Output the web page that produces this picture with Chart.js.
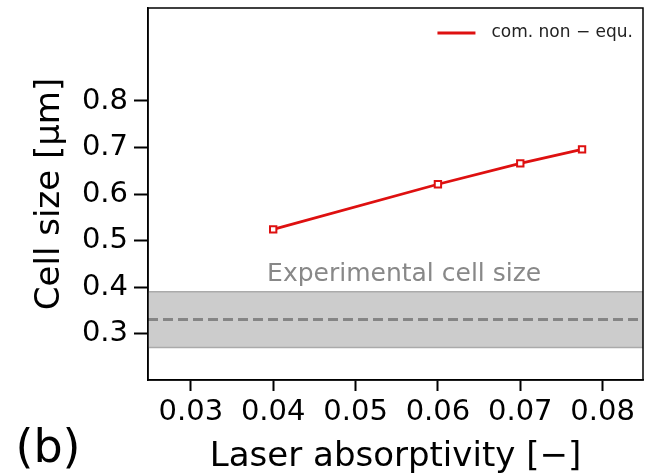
<!DOCTYPE html>
<html>
<head>
<meta charset="utf-8">
<script src="https://cdn.jsdelivr.net/npm/chart.js@4"></script>
<style>
  html, body { margin: 0; padding: 0; background: #fff; }
  #cellSizeChart { display: block; }
</style>
</head>
<body>
<canvas id="cellSizeChart" width="645" height="474"></canvas>
<script>
// Simulated cell size vs. laser absorptivity
const absorptivity = [0.04, 0.06, 0.07, 0.0775];
const cellSize = [0.524, 0.621, 0.666, 0.696];
const seriesName = "com. non − equ.";

// Experimental cell size: mean and range
const expMean = 0.33;
const expLow = 0.27;
const expHigh = 0.39;
const expLabel = "Experimental cell size";
const expLabelPos = [0.0559, 0.4125];

// Axis ranges and ticks
const xLimits = [0.0248, 0.0849];
const yLimits = [0.2, 1.0];
const xTickValues = [0.03, 0.04, 0.05, 0.06, 0.07, 0.08];
const yTickValues = [0.3, 0.4, 0.5, 0.6, 0.7, 0.8];

const FONT = "'DejaVu Sans', sans-serif";
const RED = "rgb(222, 16, 16)";

const hline = (y) => [
  { x: xLimits[0], y },
  { x: xLimits[1], y },
];

// Draws the band label, the legend, the frame and the panel tag
const extrasPlugin = {
  id: "extras",
  afterDatasetsDraw(chart) {
    const { ctx, chartArea, scales } = chart;
    ctx.save();
    ctx.font = `25px ${FONT}`;
    ctx.fillStyle = "#888888";
    ctx.textAlign = "center";
    ctx.textBaseline = "alphabetic";
    ctx.fillText(
      expLabel,
      scales.x.getPixelForValue(expLabelPos[0]),
      scales.y.getPixelForValue(expLabelPos[1])
    );

    // legend entry in the upper right corner
    const ds = chart.data.datasets[0];
    ctx.font = `17px ${FONT}`;
    const textW = ctx.measureText(ds.label).width;
    const textX = chartArea.right - 10 - textW;
    const legY = chartArea.top + 25;
    ctx.strokeStyle = ds.borderColor;
    ctx.lineWidth = ds.borderWidth;
    ctx.beginPath();
    ctx.moveTo(textX - 54, legY);
    ctx.lineTo(textX - 16, legY);
    ctx.stroke();
    ctx.fillStyle = "#222";
    ctx.textAlign = "left";
    ctx.textBaseline = "middle";
    ctx.fillText(ds.label, textX, legY);
    ctx.restore();
  },
  afterDraw(chart) {
    const { ctx, chartArea } = chart;
    ctx.save();
    ctx.strokeStyle = "#000";
    ctx.lineWidth = 1.5;
    ctx.strokeRect(
      chartArea.left,
      chartArea.top,
      chartArea.right - chartArea.left,
      chartArea.bottom - chartArea.top
    );
    ctx.font = `46px ${FONT}`;
    ctx.fillStyle = "#000";
    ctx.textAlign = "center";
    ctx.textBaseline = "alphabetic";
    ctx.fillText("(b)", 48, 462);
    ctx.restore();
  },
};

const ctx = document.getElementById("cellSizeChart").getContext("2d");
new Chart(ctx, {
  type: "scatter",
  data: {
    datasets: [
      {
        label: seriesName,
        data: absorptivity.map((x, i) => ({ x, y: cellSize[i] })),
        showLine: true,
        borderColor: RED,
        borderWidth: 2.8,
        pointStyle: "rect",
        pointRadius: 4.5,
        pointBorderWidth: 2,
        pointBackgroundColor: "#fff",
        pointBorderColor: RED,
        order: 0,
      },
      {
        label: "exp-high",
        data: hline(expHigh),
        showLine: true,
        borderColor: "#aaaaaa",
        borderWidth: 1.5,
        pointRadius: 0,
        backgroundColor: "#cccccc",
        fill: "+1",
        order: 3,
      },
      {
        label: "exp-low",
        data: hline(expLow),
        showLine: true,
        borderColor: "#aaaaaa",
        borderWidth: 1.5,
        pointRadius: 0,
        fill: false,
        order: 2,
      },
      {
        label: "exp-mean",
        data: hline(expMean),
        showLine: true,
        borderColor: "#858585",
        borderWidth: 3,
        borderDash: [10, 5],
        pointRadius: 0,
        fill: false,
        order: 1,
      },
    ],
  },
  options: {
    responsive: false,
    devicePixelRatio: 1,
    animation: false,
    layout: {
      autoPadding: false,
      padding: { top: 8, right: 2, left: 0, bottom: 0 },
    },
    plugins: {
      tooltip: { enabled: false },
      legend: { display: false },
    },
    scales: {
      x: {
        type: "linear",
        min: xLimits[0],
        max: xLimits[1],
        afterBuildTicks: (scale) => {
          scale.ticks = xTickValues.map((v) => ({ value: v }));
        },
        afterFit: (scale) => {
          scale.height = 94;
          scale.paddingLeft = 0;
          scale.paddingRight = 0;
        },
        ticks: {
          font: { family: FONT, size: 29 },
          color: "#000",
          padding: 4,
          maxRotation: 0,
          callback: (v) => Number(v).toFixed(2),
        },
        grid: {
          drawOnChartArea: false,
          tickLength: 11,
          tickColor: "#000",
          tickWidth: 2,
        },
        border: { color: "#000", width: 1.5 },
        title: {
          display: true,
          text: "Laser absorptivity [−]",
          font: { family: FONT, size: 34, lineHeight: 1 },
          color: "#000",
          padding: { top: 0, bottom: 0 },
        },
      },
      y: {
        type: "linear",
        min: yLimits[0],
        max: yLimits[1],
        afterBuildTicks: (scale) => {
          scale.ticks = yTickValues.map((v) => ({ value: v }));
        },
        afterFit: (scale) => {
          scale.width = 148;
          scale.paddingTop = 0;
          scale.paddingBottom = 0;
        },
        ticks: {
          font: { family: FONT, size: 29 },
          color: "#000",
          padding: 6,
          callback: (v) => Number(v).toFixed(1),
        },
        grid: {
          drawOnChartArea: false,
          tickLength: 14,
          tickColor: "#000",
          tickWidth: 2,
        },
        border: { color: "#000", width: 1.5 },
        title: {
          display: true,
          text: "Cell size [μm]",
          font: { family: FONT, size: 34, lineHeight: 1 },
          color: "#000",
          padding: { top: 33, bottom: 0 },
        },
      },
    },
  },
  plugins: [extrasPlugin],
});
</script>
</body>
</html>
